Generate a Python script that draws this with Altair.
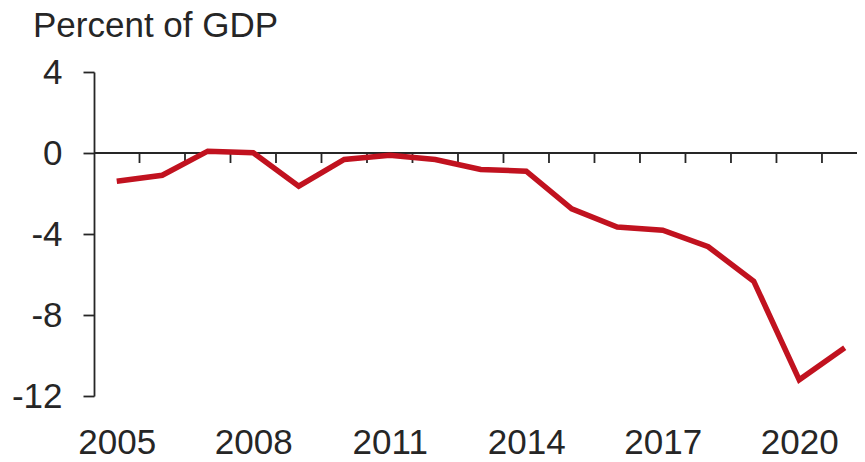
import altair as alt
import pandas as pd

years = list(range(2005, 2022))
values = [-1.39, -1.10, 0.09, 0.01, -1.64, -0.32, -0.11, -0.32, -0.81, -0.90,
          -2.76, -3.66, -3.81, -4.63, -6.33, -11.2, -9.62]
label_years = [2005, 2008, 2011, 2014, 2017, 2020]
y_ticks = [4, 0, -4, -8, -12]
title_text = "Percent of GDP"

df = pd.DataFrame({"year": years, "value": values})
bounds = pd.DataFrame({"b": [y + 0.5 for y in years[:-1]]})

FONT = "Liberation Sans"
INK = "#262626"

x_scale = alt.Scale(domain=[2004.5, 2021.27], nice=False, zero=False)
y_scale = alt.Scale(domain=[-12, 4], nice=False, zero=False)

line = alt.Chart(df).mark_line(color="#C1121F", strokeWidth=5.5, strokeJoin="miter").encode(
    x=alt.X("year:Q", scale=x_scale,
            axis=alt.Axis(values=label_years, format="d", title=None, domain=False,
                          ticks=False, grid=False, labelFontSize=35, labelFont=FONT,
                          labelColor=INK, labelBaseline="alphabetic", labelPadding=57,
                          labelFlush=False, labelOverlap=False)),
    y=alt.Y("value:Q", scale=y_scale,
            axis=alt.Axis(values=y_ticks, title=None, grid=False,
                          labelExpr="'' + datum.value",
                          domainColor=INK, domainWidth=1.8, tickColor=INK, tickWidth=1.8,
                          tickSize=11, labelFontSize=35, labelFont=FONT, labelColor=INK,
                          labelPadding=21, labelFlush=False, labelOverlap=False)),
)

zero = alt.Chart(pd.DataFrame({"z": [0]})).mark_rule(color=INK, strokeWidth=1.8).encode(
    y=alt.Y("z:Q", scale=y_scale)
)

ticks = alt.Chart(bounds).mark_rule(color=INK, strokeWidth=1.8, y2Offset=10).encode(
    x=alt.X("b:Q", scale=x_scale),
    y=alt.datum(0, scale=y_scale),
    y2=alt.datum(0),
)

chart = alt.layer(zero, ticks, line).properties(
    width=763,
    height=324,
    autosize=alt.AutoSizeParams(type="none"),
    padding={"left": 86, "top": 64, "right": 0, "bottom": 62},
    title=alt.TitleParams(title_text, anchor="start", frame="group", fontSize=35,
                          font=FONT, fontWeight="normal", color=INK, dx=-61,
                          offset=-17, baseline="alphabetic"),
).configure_view(stroke=None)

chart.save("out.html", embed_options={"renderer": "svg", "actions": False})
